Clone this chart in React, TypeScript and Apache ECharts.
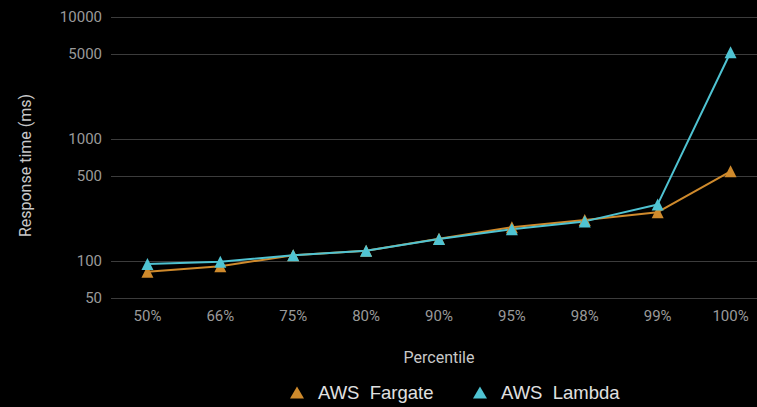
import React, { useEffect, useRef } from "react";
import * as echarts from "echarts";

const categories = ["50%", "66%", "75%", "80%", "90%", "95%", "98%", "99%", "100%"];
const fargate = [82, 91, 112, 122, 153, 190, 218, 252, 545];
const lambda = [95, 99, 112, 122, 152, 183, 212, 292, 5150];
const yTicks = [50, 100, 500, 1000, 5000, 10000];

export default function App() {
  const ref = useRef<HTMLDivElement>(null);
  useEffect(() => {
    if (!ref.current) return;
    const chart = echarts.init(ref.current, null, { renderer: "svg" });
    chart.setOption({
      animation: false,
      backgroundColor: "#000000",
      textStyle: { fontFamily: "Roboto" },
      grid: { left: 111, width: 656, top: 17, height: 281 },
      legend: {
        left: 290,
        top: 383,
        padding: 0,
        itemWidth: 14,
        itemHeight: 12,
        itemGap: 39.5,
        icon: "triangle",
        textStyle: {
          color: "#e0e0e0",
          fontSize: 18.5,
          fontFamily: "Liberation Sans",
          padding: [0, 0, 0, 9],
        },
        data: ["AWS  Fargate", "AWS  Lambda"],
      },
      xAxis: {
        type: "category",
        data: categories,
        boundaryGap: true,
        name: "Percentile",
        nameLocation: "middle",
        nameGap: 51,
        nameTextStyle: { color: "#c8c8c8", fontSize: 16 },
        axisLine: { show: false },
        axisTick: { show: false },
        axisLabel: { color: "#9a9a9a", fontSize: 15, margin: 10 },
      },
      yAxis: {
        type: "log",
        logBase: 10,
        min: 50,
        max: 10000,
        name: "Response time (ms)",
        nameLocation: "middle",
        nameGap: 78,
        nameTextStyle: { color: "#c8c8c8", fontSize: 16, padding: [0, 16, 0, 0] },
        axisLine: { show: false },
        axisTick: { show: false, customValues: yTicks },
        axisLabel: {
          color: "#9a9a9a",
          fontSize: 15,
          margin: 9,
          customValues: yTicks,
          formatter: (v: number) => String(Math.round(v)),
        },
        splitLine: { show: true, lineStyle: { color: "#3c3c3c", width: 1 } },
      },
      series: [
        {
          name: "AWS  Fargate",
          type: "line",
          data: fargate,
          symbol: "triangle",
          symbolSize: 12,
          color: "#cf8a2c",
          lineStyle: { width: 2 },
        },
        {
          name: "AWS  Lambda",
          type: "line",
          data: lambda,
          symbol: "triangle",
          symbolSize: 12,
          color: "#4fc3d2",
          lineStyle: { width: 2 },
        },
      ],
    });
    return () => chart.dispose();
  }, []);
  return (
    <div style={{ width: 757, height: 407, position: "absolute", left: 0, top: 0, overflow: "hidden" }}>
      <div ref={ref} style={{ width: 772, height: 407 }} />
    </div>
  );
}
